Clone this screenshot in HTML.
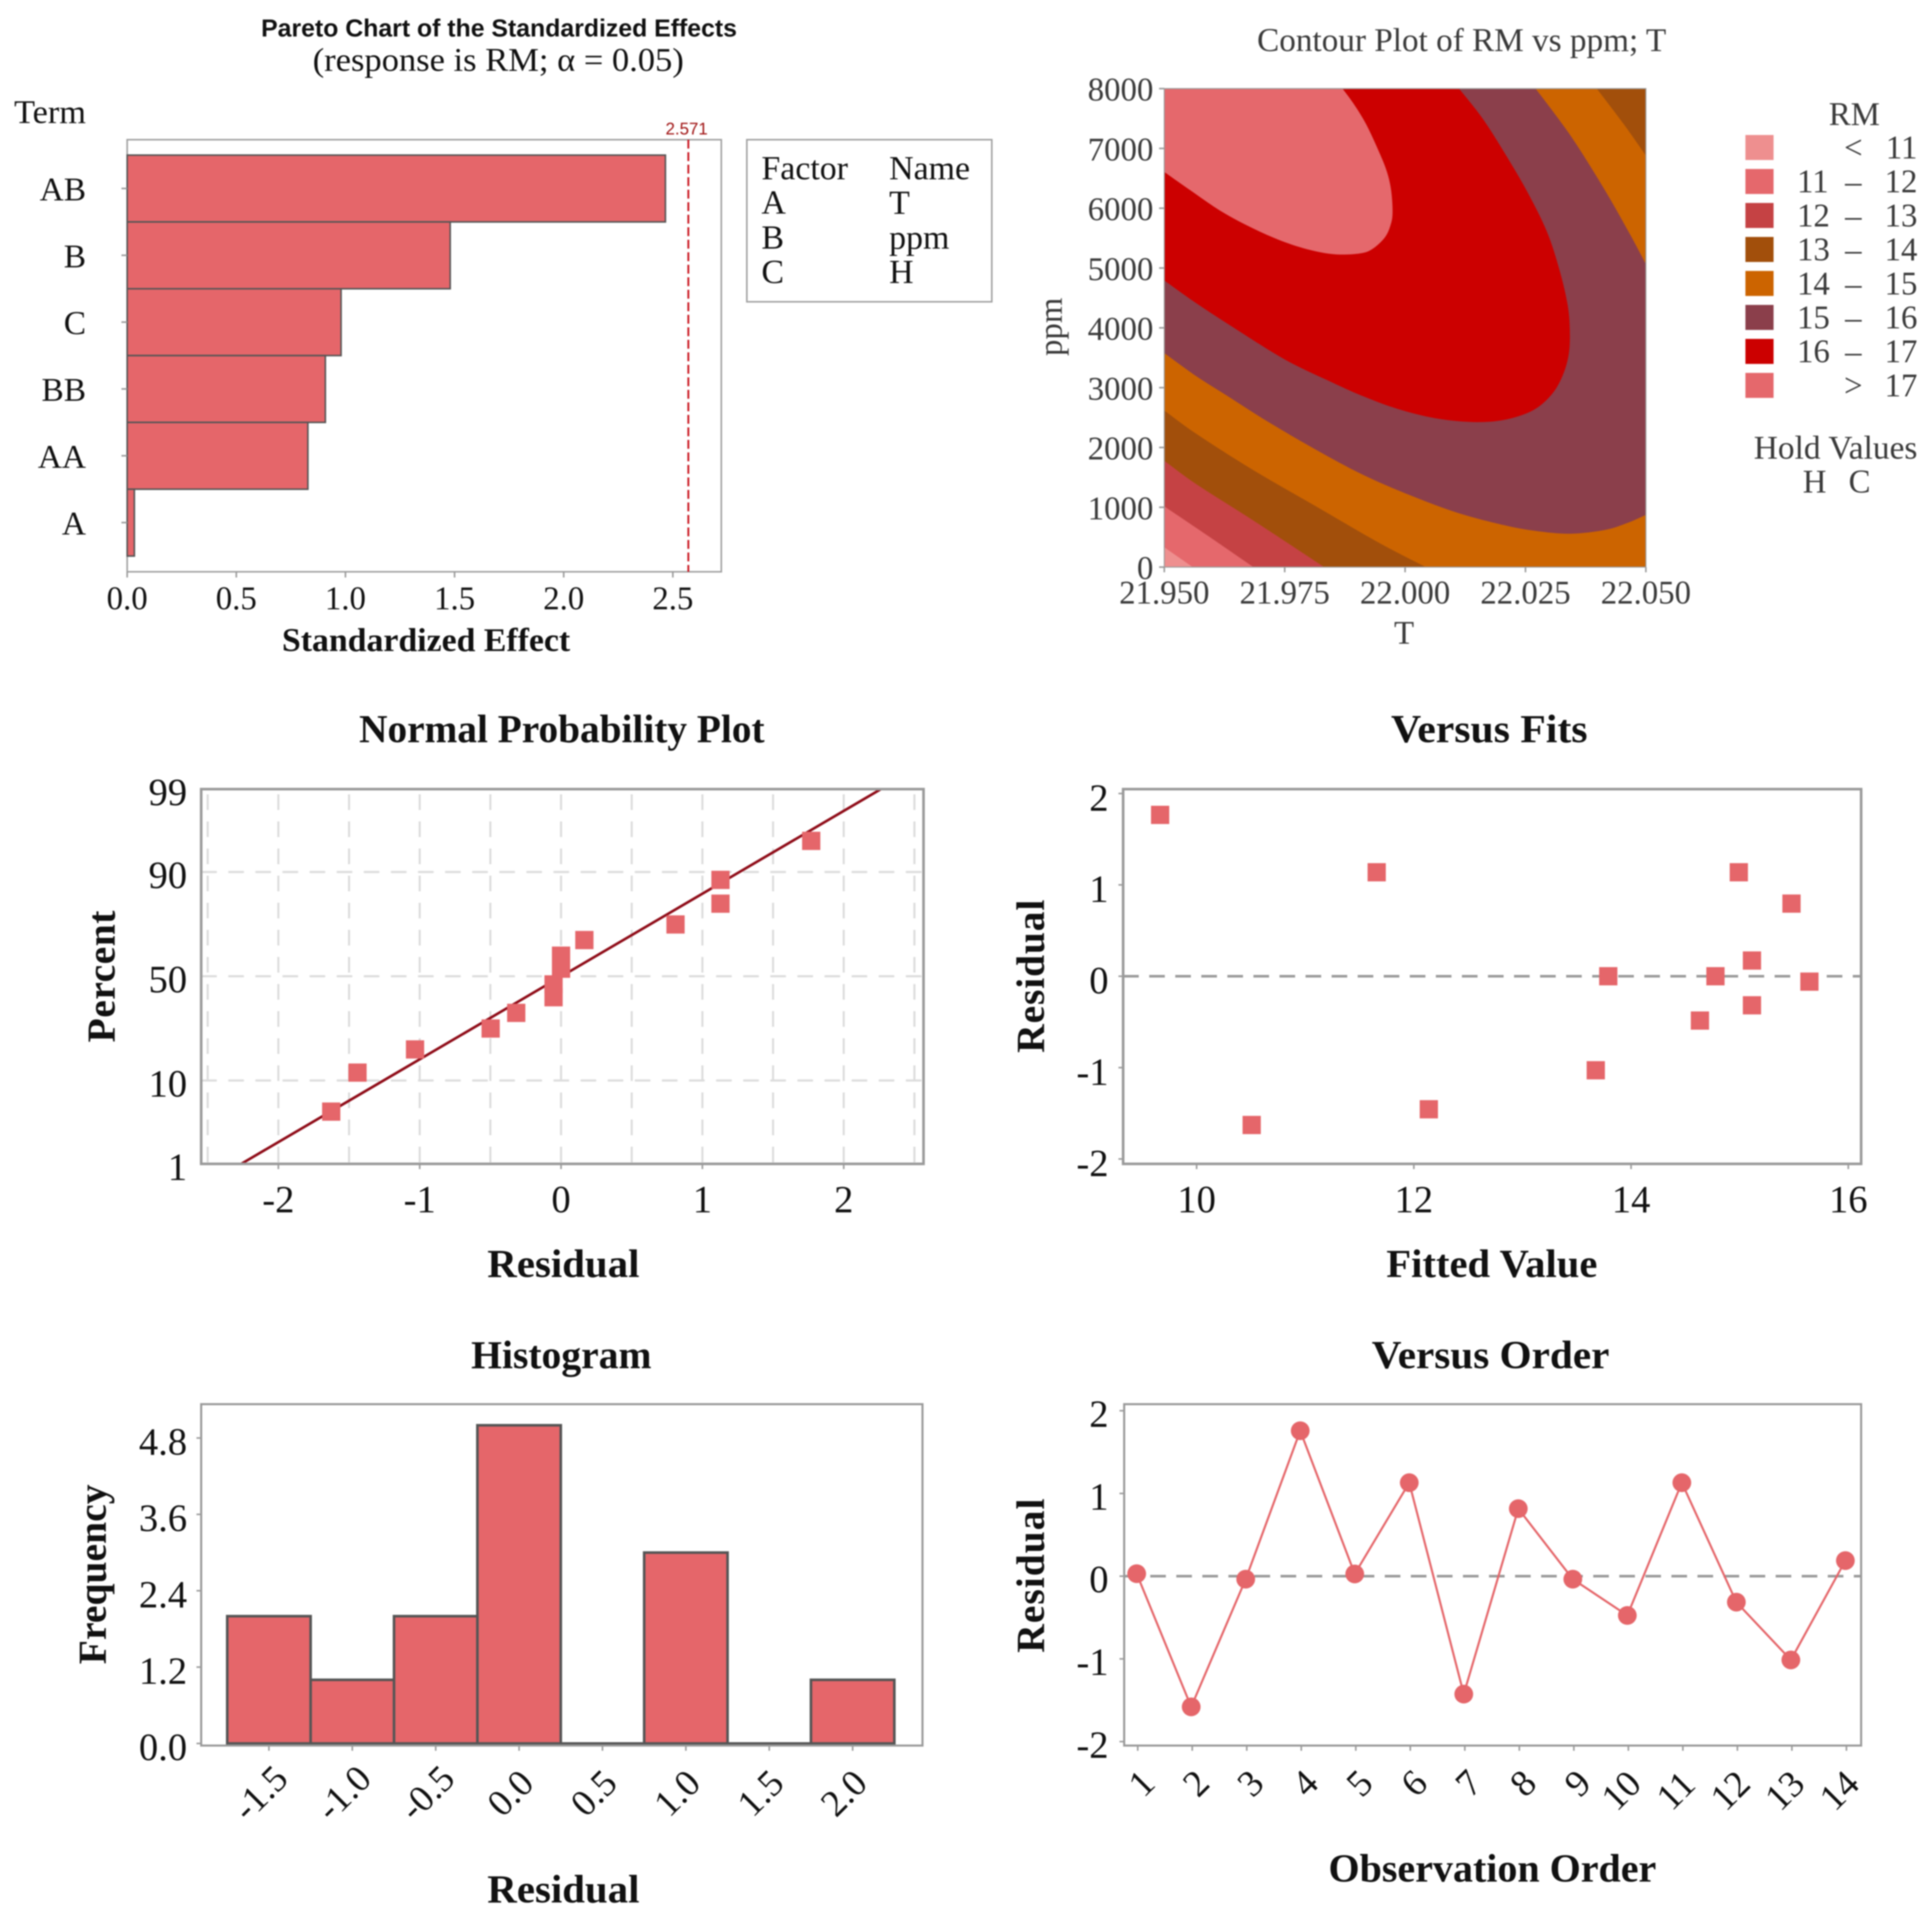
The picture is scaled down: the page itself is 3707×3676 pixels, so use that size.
<!DOCTYPE html>
<html lang="en">
<head>
<meta charset="utf-8">
<title>Minitab factorial analysis charts</title>
<style>
html,body{margin:0;padding:0;background:#fff;}
svg{display:block;filter:blur(1.2px);}
text{font-family:"Liberation Serif","DejaVu Serif",serif;fill:#111;}
.bold{font-weight:bold;}
.sans{font-family:"Liberation Sans","DejaVu Sans",sans-serif;}
.grey{fill:#3a3a3a;}
</style>
</head>
<body>
<svg id="root" xmlns="http://www.w3.org/2000/svg" width="3707" height="3676" viewBox="0 0 3707 3676">
  <defs>
    <clipPath id="contour-clip"><rect x="2234" y="170" width="924" height="918"></rect></clipPath>
  </defs>
  <rect x="0" y="0" width="3707" height="3676" fill="#ffffff"></rect>

  <g id="pareto">
    <text class="sans bold" x="501" y="70" font-size="47" textLength="913" lengthAdjust="spacingAndGlyphs">Pareto Chart of the Standardized Effects</text>
    <text x="600" y="136" font-size="63" textLength="712" lengthAdjust="spacingAndGlyphs">(response is RM; α = 0.05)</text>
    <text x="27" y="236" font-size="64" textLength="138" lengthAdjust="spacingAndGlyphs">Term</text>
    <text class="bold" x="541" y="1249" font-size="64" textLength="553" lengthAdjust="spacingAndGlyphs">Standardized Effect</text>
    <rect x="244" y="268" width="1140" height="829" fill="none" stroke="#a0a0a0" stroke-width="3"></rect>
    <g>
      <rect x="1433" y="268" width="470" height="311" fill="#fff" stroke="#a0a0a0" stroke-width="3"></rect>
      <text x="1461" y="344" font-size="65">Factor</text>
      <text x="1706" y="344" font-size="65">Name</text>
      <text x="1461" y="410" font-size="65">A</text>
      <text x="1706" y="410" font-size="65">T</text>
      <text x="1461" y="477" font-size="65">B</text>
      <text x="1706" y="477" font-size="65">ppm</text>
      <text x="1461" y="543" font-size="65">C</text>
      <text x="1706" y="543" font-size="65">H</text>
    </g>
    <text class="sans" style="fill:#a01414" x="1277" y="258" font-size="32" textLength="81" lengthAdjust="spacingAndGlyphs">2.571</text>
  </g>

  <g id="contour">
    <text class="grey" x="2412" y="98" font-size="63" textLength="785" lengthAdjust="spacingAndGlyphs">Contour Plot of RM vs ppm; T</text>
    <text class="grey" x="2694" y="1235" font-size="63" text-anchor="middle">T</text>
    <text class="grey" transform="translate(2037 627) rotate(-90)" font-size="63" text-anchor="middle">ppm</text>
    <text class="grey" x="3558" y="240" font-size="63" text-anchor="middle">RM</text>
    <text class="grey" x="3365" y="880" font-size="63" textLength="314" lengthAdjust="spacingAndGlyphs">Hold Values</text>
    <text class="grey" x="3459" y="945" font-size="63">H</text>
    <text class="grey" x="3547" y="945" font-size="63">C</text>
  </g>

  <g id="probplot">
    <text class="bold" x="689" y="1424" font-size="76" textLength="778" lengthAdjust="spacingAndGlyphs">Normal Probability Plot</text>
    <text class="bold" x="935" y="2450" font-size="76" textLength="292" lengthAdjust="spacingAndGlyphs">Residual</text>
    <text class="bold" transform="translate(220 2000) rotate(-90)" font-size="76" textLength="253" lengthAdjust="spacing">Percent</text>
  </g>

  <g id="fits">
    <text class="bold" x="2669" y="1424" font-size="76" textLength="377" lengthAdjust="spacingAndGlyphs">Versus Fits</text>
    <text class="bold" x="2660" y="2450" font-size="76" textLength="405" lengthAdjust="spacingAndGlyphs">Fitted Value</text>
    <text class="bold" transform="translate(2003 2020) rotate(-90)" font-size="76" textLength="294" lengthAdjust="spacing">Residual</text>
  </g>

  <g id="hist">
    <text class="bold" x="904" y="2625" font-size="76" textLength="346" lengthAdjust="spacingAndGlyphs">Histogram</text>
    <text class="bold" x="935" y="3650" font-size="76" textLength="292" lengthAdjust="spacingAndGlyphs">Residual</text>
    <text class="bold" transform="translate(203 3193) rotate(-90)" font-size="76" textLength="345" lengthAdjust="spacing">Frequency</text>
  </g>

  <g id="order">
    <text class="bold" x="2632" y="2625" font-size="76" textLength="456" lengthAdjust="spacingAndGlyphs">Versus Order</text>
    <text class="bold" x="2549" y="3610" font-size="76" textLength="629" lengthAdjust="spacingAndGlyphs">Observation Order</text>
    <text class="bold" transform="translate(2003 3171) rotate(-90)" font-size="76" textLength="296" lengthAdjust="spacing">Residual</text>
  </g>
</svg>

<script>
/* ---------- chart data ---------- */
const paretoTerms = ['AB', 'B', 'C', 'BB', 'AA', 'A'];
const paretoEffects = [2.466, 1.48, 0.98, 0.908, 0.828, 0.033];
const paretoCritical = 2.571;
const paretoTicks = ['0.0', '0.5', '1.0', '1.5', '2.0', '2.5'];

const contourXTicks = ['21.950', '21.975', '22.000', '22.025', '22.050'];
const contourYTicks = ['0', '1000', '2000', '3000', '4000', '5000', '6000', '7000', '8000'];
const contourBrownFill = '#a24f0b';
const bandOrange = [
  [[21.95,2619],[21.9567,2225],[21.9685,1620],[21.9815,1015],[21.9945,410],[22.0043,0]],
  [[22.05,0]],
  [[22.05,6880],[22.0454,7406],[22.0398,8000]],
  [[21.95,8000]]
];
const bandMaroon = [
  [[21.95,3577],[21.9567,3188],[21.9632,2856],[21.9711,2451],[21.9815,1962],[21.9913,1541],[22.0011,1199],[22.0108,910],[22.0206,700],[22.0271,605],[22.0343,558],[22.0415,621],[22.0461,736],[22.05,873]],
  [[22.05,5065],[22.0467,5565],[22.0415,6301],[22.0356,7064],[22.0317,7511],[22.0271,8000]],
  [[21.95,8000]]
];
const bandRed = [
  [[21.95,4792],[21.9567,4408],[21.9645,3998],[21.975,3472],[21.9847,3093],[21.9913,2856],[21.9984,2646],[22.0063,2488],[22.0141,2425],[22.0206,2462],[22.0265,2619],[22.0304,2882],[22.0327,3198],[22.034,3566],[22.0342,3987],[22.0337,4408],[22.032,4986],[22.0294,5618],[22.0252,6301],[22.0206,6933],[22.016,7511],[22.0112,8000]],
  [[21.95,8000]]
];
const bandTop = [
  [[21.95,6606],[21.9554,6301],[21.9619,5944],[21.9685,5660],[21.975,5434],[21.9808,5292],[21.9857,5228],[21.9906,5244],[21.9932,5318],[21.9958,5512],[21.997,5723],[21.9974,5933],[21.9971,6301],[21.9962,6617],[21.9945,6959],[21.9919,7406],[21.9893,7748],[21.987,8000]],
  [[21.95,8000]]
];
const band12 = [
  [[21.95,1778],[21.9567,1383],[21.9685,778],[21.9832,0]],
  [[21.95,0]]
];
const band11 = [
  [[21.95,1015],[21.9587,542],[21.9685,0]],
  [[21.95,0]]
];
const bandLow = [
  [[21.95,331],[21.9559,0]],
  [[21.95,0]]
];
const legendColors = ['#ee8f8f', '#e5686c', '#c54244', '#a24f0b', '#cc6400', '#8b3f4b', '#cc0000', '#e5686c'];
const legendLow = ['', '11', '12', '13', '14', '15', '16', ''];
const legendMid = ['<', '–', '–', '–', '–', '–', '–', '>'];
const legendHigh = ['11', '12', '13', '14', '15', '16', '17', '17'];

const probResiduals = [-1.626, -1.44, -1.033, -0.498, -0.317, -0.053, -0.053, 0, 0, 0.165, 0.81, 1.128, 1.128, 1.77];
const probPercents = [4.8, 11.8, 18.4, 26, 32.6, 39.8, 46, 53.7, 60, 67.2, 73.8, 81.4, 88.2, 95.2];
const probFitResidual = [-2.263, 2.263];
const probFitPercent = [1, 99];
const probXGrid = [-2.5, -2, -1.5, -1, -0.5, 0, 0.5, 1, 1.5, 2, 2.5];
const probXTicks = ['-2', '-1', '0', '1', '2'];
const probYGrid = [10, 50, 90];
const probYTicks = ['1', '10', '50', '90', '99'];

const fitsFitted = [9.664, 10.507, 11.658, 12.138, 13.675, 13.79, 14.634, 14.777, 14.992, 15.113, 15.113, 15.477, 15.642];
const fitsResiduals = [1.766, -1.628, 1.138, -1.456, -1.029, 0, -0.485, 0, 1.138, 0.172, -0.318, 0.795, -0.059];
const fitsXTicks = ['10', '12', '14', '16'];
const fitsYTicks = ['-2', '-1', '0', '1', '2'];

const histBins = ['-1.5', '-1.0', '-0.5', '0.0', '0.5', '1.0', '1.5', '2.0'];
const histCounts = [2, 1, 2, 5, 0, 3, 0, 1];
const histYTicks = ['0.0', '1.2', '2.4', '3.6', '4.8'];

const orderLabels = ['1', '2', '3', '4', '5', '6', '7', '8', '9', '10', '11', '12', '13', '14'];
const orderResiduals = [0.03, -1.58, -0.036, 1.758, 0.027, 1.13, -1.426, 0.816, -0.036, -0.475, 1.13, -0.314, -1.013, 0.188];
const orderYTicks = ['-2', '-1', '0', '1', '2'];

/* ---------- helpers ---------- */
const NS = 'http://www.w3.org/2000/svg';
const MARK = '#e5666a';
const AXIS = '#9a9a9a';
function mk(tag, attrs, parent) {
  const node = document.createElementNS(NS, tag);
  for (const k in attrs) node.setAttribute(k, attrs[k]);
  parent.appendChild(node);
  return node;
}
function txt(parent, x, y, str, anchor, size, cls) {
  const node = mk('text', {x: x, y: y, 'text-anchor': anchor, 'font-size': size}, parent);
  if (cls) node.setAttribute('class', cls);
  node.textContent = str;
  return node;
}
function smooth(points) {
  let d = '';
  for (let i = 0; i < points.length - 1; i++) {
    const p0 = points[Math.max(i - 1, 0)], p1 = points[i], p2 = points[i + 1], p3 = points[Math.min(i + 2, points.length - 1)];
    d += ' C' + (p1[0] + (p2[0] - p0[0]) / 6) + ' ' + (p1[1] + (p2[1] - p0[1]) / 6) + ' ' +
         (p2[0] - (p3[0] - p1[0]) / 6) + ' ' + (p2[1] - (p3[1] - p1[1]) / 6) + ' ' + p2[0] + ' ' + p2[1];
  }
  return d;
}
function normInv(p) {
  const q = p < 0.5 ? p : 1 - p;
  const t = Math.sqrt(-2 * Math.log(q));
  const z = t - (2.515517 + 0.802853 * t + 0.010328 * t * t) / (1 + 1.432788 * t + 0.189269 * t * t + 0.001308 * t * t * t);
  return p < 0.5 ? -z : z;
}

/* ---------- pareto ---------- */
(function () {
  const g = document.getElementById('pareto');
  const px = v => 244 + 418.8 * v;
  const bandTopY = i => 297.6 + 128.2 * i;
  paretoTerms.forEach(function (term, i) {
    const bar = mk('rect', {x: px(0), y: bandTopY(i), width: px(paretoEffects[i]) - px(0), height: 128.2, fill: MARK, stroke: '#555', 'stroke-width': 3}, g);
    
    
    const tick = mk('line', {x1: 233, x2: 244, y1: bandTopY(i) + 64, y2: bandTopY(i) + 64, stroke: AXIS, 'stroke-width': 3}, g);
    
    
    const lab = txt(g, 165, bandTopY(i) + 87, term, 'end', 64);
    
    
  });
  paretoTicks.forEach(function (t) {
    const tick = mk('line', {x1: px(+t), x2: px(+t), y1: 1097, y2: 1108, stroke: AXIS, 'stroke-width': 3}, g);
    
    
    const lab = txt(g, px(+t), 1169, t, 'middle', 63);
    
    
  });
  const ref = mk('line', {x1: px(paretoCritical), x2: px(paretoCritical), y1: 268, y2: 1097, stroke: '#c8141e', 'stroke-width': 3.5, 'stroke-dasharray': '17 7'}, g);
  
  
})();

/* ---------- contour ---------- */
(function () {
  const g = document.getElementById('contour');
  const cx = t => 2234 + (t - 21.95) / 0.1 * 924;
  const cy = v => 1088 - v / 8000 * 918;
  const surf = mk('g', {'clip-path': 'url(#contour-clip)'}, g);
  
  
  const base = mk('rect', {x: cx(21.95), y: cy(8000), width: cx(22.05) - cx(21.95), height: cy(0) - cy(8000), fill: contourBrownFill}, surf);
  
  
  function band(segments, color) {
    let d = '';
    segments.forEach(function (seg) {
      const pts = seg.map(p => [cx(p[0]), cy(p[1])]);
      d += (d ? ' L' : 'M') + pts[0][0] + ' ' + pts[0][1] + smooth(pts);
    });
    return mk('path', {d: d + ' Z', fill: color}, surf);
  }
  const b1 = band(bandOrange, legendColors[4]);
  
  
  const b2 = band(bandMaroon, legendColors[5]);
  
  
  const b3 = band(bandRed, legendColors[6]);
  
  
  const b4 = band(bandTop, legendColors[7]);
  
  
  const b5 = band(band12, legendColors[2]);
  
  
  const b6 = band(band11, legendColors[1]);
  
  
  const b7 = band(bandLow, legendColors[0]);
  
  
  const frame = mk('rect', {x: 2234, y: 170, width: 924, height: 918, fill: 'none', stroke: AXIS, 'stroke-width': 2}, g);
  
  
  contourXTicks.forEach(function (t) {
    const tick = mk('line', {x1: cx(+t), x2: cx(+t), y1: 1088, y2: 1098, stroke: AXIS, 'stroke-width': 3}, g);
    
    
    const lab = txt(g, cx(+t), 1158, t, 'middle', 63, 'grey');
    
    
  });
  contourYTicks.forEach(function (t) {
    const tick = mk('line', {x1: 2224, x2: 2234, y1: cy(+t), y2: cy(+t), stroke: AXIS, 'stroke-width': 3}, g);
    
    
    const lab = txt(g, 2213, cy(+t) + 23, t, 'end', 63, 'grey');
    
    
  });
  legendColors.forEach(function (color, i) {
    const top = 259 + i * 65.2;
    const sw = mk('rect', {x: 3349, y: top, width: 54, height: 48, fill: color}, g);
    
    
    const base = top + 45;
    if (legendLow[i]) {
      const lo = txt(g, 3448, base, legendLow[i], 'start', 63, 'grey');
      
      
    }
    const mid = txt(g, 3556, base, legendMid[i], 'middle', 63, 'grey');
    
    
    const hi = txt(g, 3679, base, legendHigh[i], 'end', 63, 'grey');
    
    
  });
})();

/* ---------- normal probability ---------- */
(function () {
  const g = document.getElementById('probplot');
  const L = 386, R = 1772, T = 1514, B = 2233;
  const px = v => 1076.5 + 271.2 * v;
  const py = p => 1873 - 156 * normInv(p / 100);
  probXGrid.forEach(function (v) {
    const line = mk('line', {x1: px(v), x2: px(v), y1: T + 10, y2: B, stroke: '#dcdcdc', 'stroke-width': 4, 'stroke-dasharray': '30 22'}, g);
    
    
  });
  probYGrid.forEach(function (p) {
    const line = mk('line', {x1: L, x2: R, y1: py(p), y2: py(p), stroke: '#dcdcdc', 'stroke-width': 4, 'stroke-dasharray': '30 22'}, g);
    
    
  });
  const fit = mk('line', {x1: px(probFitResidual[0]), y1: B, x2: px(probFitResidual[1]), y2: T, stroke: '#8f0c18', 'stroke-width': 5}, g);
  
  
  probResiduals.forEach(function (r, i) {
    const s = mk('rect', {x: px(r) - 17.5, y: py(probPercents[i]) - 17.5, width: 35, height: 35, fill: MARK}, g);
    
    
  });
  const frame = mk('rect', {x: L, y: T, width: R - L, height: B - T, fill: 'none', stroke: AXIS, 'stroke-width': 5}, g);
  
  
  probXTicks.forEach(function (t) {
    const tick = mk('line', {x1: px(+t), x2: px(+t), y1: B, y2: B + 10, stroke: AXIS, 'stroke-width': 3}, g);
    
    
    const lab = txt(g, px(+t), 2326, t, 'middle', 74);
    
    
  });
  probYTicks.forEach(function (t) {
    const p = +t;
    const y = p === 1 ? B : p === 99 ? T : py(p);
    const lab = txt(g, 359, y + 31, t, 'end', 74);
    
    
  });
})();

/* ---------- versus fits ---------- */
(function () {
  const g = document.getElementById('fits');
  const L = 2155, R = 3571, T = 1514, B = 2233;
  const px = v => 2296 + 208.4 * (v - 10);
  const py = v => 1873 - 175.3 * v;
  const zero = mk('line', {x1: L, x2: R, y1: py(0), y2: py(0), stroke: AXIS, 'stroke-width': 5, 'stroke-dasharray': '30 20'}, g);
  
  
  fitsFitted.forEach(function (f, i) {
    const s = mk('rect', {x: px(f) - 17.5, y: py(fitsResiduals[i]) - 17.5, width: 35, height: 35, fill: MARK}, g);
    
    
  });
  const frame = mk('rect', {x: L, y: T, width: R - L, height: B - T, fill: 'none', stroke: AXIS, 'stroke-width': 5}, g);
  
  
  fitsXTicks.forEach(function (t) {
    const tick = mk('line', {x1: px(+t), x2: px(+t), y1: B, y2: B + 10, stroke: AXIS, 'stroke-width': 3}, g);
    
    
    const lab = txt(g, px(+t), 2326, t, 'middle', 74);
    
    
  });
  fitsYTicks.forEach(function (t) {
    const tick = mk('line', {x1: L - 9, x2: L, y1: py(+t), y2: py(+t), stroke: AXIS, 'stroke-width': 3}, g);
    
    
    const lab = txt(g, 2127, py(+t) + 33, t, 'end', 74);
    
    
  });
})();

/* ---------- histogram ---------- */
(function () {
  const g = document.getElementById('hist');
  const L = 386, R = 1770, T = 2694, B = 3349;
  const px = v => 996 + 320 * v;
  const py = v => 3345 - 122.1 * v;
  histBins.forEach(function (b, i) {
    const v = +b;
    const x0 = px(v - 0.25), x1 = px(v + 0.25), yTop = py(histCounts[i]), yBase = py(0);
    const bar = mk('path', {d: 'M' + x0 + ' ' + yBase + ' V' + yTop + ' H' + x1 + ' V' + yBase + ' Z', fill: MARK, stroke: '#555', 'stroke-width': 5}, g);
    
    
    const tick = mk('line', {x1: px(v), x2: px(v), y1: B, y2: B + 10, stroke: AXIS, 'stroke-width': 3}, g);
    
    
    const cx = px(v) - 17, cy = 3440;
    const lab = txt(g, cx, cy + 24, b, 'middle', 72);
    lab.setAttribute('transform', 'rotate(-45 ' + cx + ' ' + cy + ')');
    
    
  });
  const frame = mk('rect', {x: L, y: T, width: R - L, height: B - T, fill: 'none', stroke: AXIS, 'stroke-width': 4}, g);
  
  
  histYTicks.forEach(function (t) {
    const tick = mk('line', {x1: L - 9, x2: L, y1: py(+t), y2: py(+t), stroke: AXIS, 'stroke-width': 3}, g);
    
    
    const lab = txt(g, 359, py(+t) + 32, t, 'end', 74);
    
    
  });
})();

/* ---------- versus order ---------- */
(function () {
  const g = document.getElementById('order');
  const L = 2157, R = 3571, T = 2694, B = 3349;
  const px = i => 2181 + 104.6 * i;
  const py = v => 3024 - 158.7 * v;
  const zero = mk('line', {x1: L, x2: R, y1: py(0), y2: py(0), stroke: AXIS, 'stroke-width': 5, 'stroke-dasharray': '30 20'}, g);
  
  
  const path = mk('polyline', {points: orderResiduals.map((v, i) => px(i) + ',' + py(v)).join(' '), fill: 'none', stroke: MARK, 'stroke-width': 4}, g);
  
  
  orderResiduals.forEach(function (v, i) {
    const dot = mk('circle', {cx: px(i), cy: py(v), r: 18, fill: MARK}, g);
    
    
    const tick = mk('line', {x1: px(i) + 2, x2: px(i) + 2, y1: B, y2: B + 10, stroke: AXIS, 'stroke-width': 3}, g);
    
    
    const label = orderLabels[i];
    const cx = px(i) + (label.length > 1 ? -12 : 9), cy = label.length > 1 ? 3435 : 3421;
    const lab = txt(g, cx, cy + 24, label, 'middle', 72);
    lab.setAttribute('transform', 'rotate(-45 ' + cx + ' ' + cy + ')');
    
    
  });
  const frame = mk('rect', {x: L, y: T, width: R - L, height: B - T, fill: 'none', stroke: AXIS, 'stroke-width': 4}, g);
  
  
  orderYTicks.forEach(function (t) {
    const tick = mk('line', {x1: L - 9, x2: L, y1: py(+t), y2: py(+t), stroke: AXIS, 'stroke-width': 3}, g);
    
    
    const lab = txt(g, 2127, py(+t) + 31, t, 'end', 74);
    
    
  });
})();
</script>
</body>
</html>
